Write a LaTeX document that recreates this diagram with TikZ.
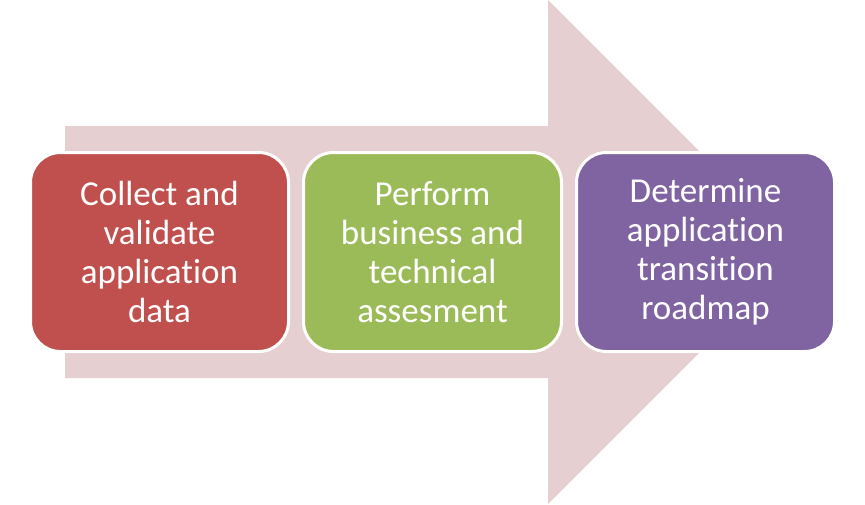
\documentclass[tikz,border=0pt]{standalone}
\usepackage{fontspec}
\setmainfont{Carlito}[Ligatures={NoCommon,NoRare}]
\usepackage{xcolor}
\usetikzlibrary{positioning}
\definecolor{arrowpink}{RGB}{230,207,208}
\definecolor{stepred}{RGB}{192,80,77}
\definecolor{stepgreen}{RGB}{155,187,89}
\definecolor{steppurple}{RGB}{128,100,162}

\begin{document}
\begin{tikzpicture}[x=1pt,y=-1pt,
  stepbox/.style={draw=white,line width=3pt,rounded corners=30pt,
    minimum width=258pt,minimum height=199pt,text=white,align=center,
    font=\fontsize{35}{39}\selectfont}]
\useasboundingbox (0,0) rectangle (865,504);
% big background arrow
\fill[arrowpink] (65,126) -- (548,126) -- (548,0) -- (800,252) -- (548,504)
  -- (548,378) -- (65,378) -- cycle;
% the three steps
\node[stepbox,fill=stepred] (collect) at (159.5,252) {Collect and\\validate\\application\\data};
\node[stepbox,fill=stepgreen,right=12pt of collect] (assess) {Perform\\business and\\technical\\assesment};
\node[stepbox,fill=steppurple,right=12pt of assess] (roadmap) {Determine\\application\\transition\\roadmap};
\end{tikzpicture}
\end{document}
